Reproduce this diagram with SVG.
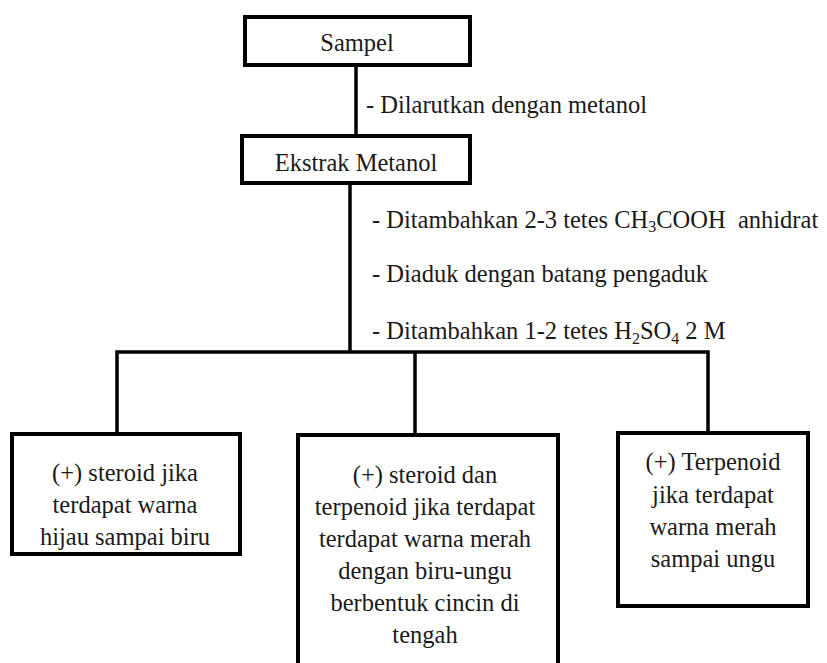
<svg xmlns="http://www.w3.org/2000/svg" width="827" height="663" viewBox="0 0 827 663">
<style>
.box{fill:#fff;stroke:#000;stroke-width:4}
.ln{stroke:#000;stroke-width:3.5;fill:none}
.t{font-family:'Liberation Serif','DejaVu Serif',serif;font-size:24.5px;fill:#1a1a1a}
.c{text-anchor:middle}
.sub{font-size:16px}
</style>
<rect width="827" height="663" fill="#fff"/>
<g id="connectors">
<line class="ln" x1="356" y1="65" x2="356" y2="136"/>
<line class="ln" x1="350" y1="183" x2="350" y2="352"/>
<polyline class="ln" points="117,434 117,352 708,352 708,433"/>
<line class="ln" x1="415" y1="352" x2="415" y2="435"/>
</g>
<g id="n-sampel" class="t c">
<rect class="box" x="245" y="17" width="225" height="48"/>
<text x="357" y="51">Sampel</text>
</g>
<g id="n-ekstrak" class="t c">
<rect class="box" x="242" y="136" width="228" height="47"/>
<text x="356" y="171">Ekstrak Metanol</text>
</g>
<g id="labels" class="t">
<text x="366" y="113">- Dilarutkan dengan metanol</text>
<text x="372" y="228" xml:space="preserve">- Ditambahkan 2-3 tetes CH<tspan class="sub" dy="4">3</tspan><tspan dy="-4">COOH  anhidrat</tspan></text>
<text x="372" y="282">- Diaduk dengan batang pengaduk</text>
<text x="372" y="339" xml:space="preserve">- Ditambahkan 1-2 tetes H<tspan class="sub" dy="5">2</tspan><tspan dy="-5">SO</tspan><tspan class="sub" dy="5">4</tspan><tspan dy="-5"> 2 M</tspan></text>
</g>
<g id="n-steroid" class="t c">
<rect class="box" x="12" y="434" width="228" height="120"/>
<text x="125" y="481">(+) steroid jika</text>
<text x="125" y="513">terdapat warna</text>
<text x="125" y="545">hijau sampai biru</text>
</g>
<g id="n-steroid-terpenoid" class="t c">
<rect class="box" x="298" y="435" width="260" height="240"/>
<text x="425" y="483">(+) steroid dan</text>
<text x="425" y="515">terpenoid jika terdapat</text>
<text x="425" y="547">terdapat warna merah</text>
<text x="425" y="579">dengan biru-ungu</text>
<text x="425" y="611">berbentuk cincin di</text>
<text x="425" y="643">tengah</text>
</g>
<g id="n-terpenoid" class="t c">
<rect class="box" x="618" y="433" width="190" height="173"/>
<text x="713" y="470">(+) Terpenoid</text>
<text x="713" y="503">jika terdapat</text>
<text x="713" y="535">warna merah</text>
<text x="713" y="567">sampai ungu</text>
</g>
</svg>
